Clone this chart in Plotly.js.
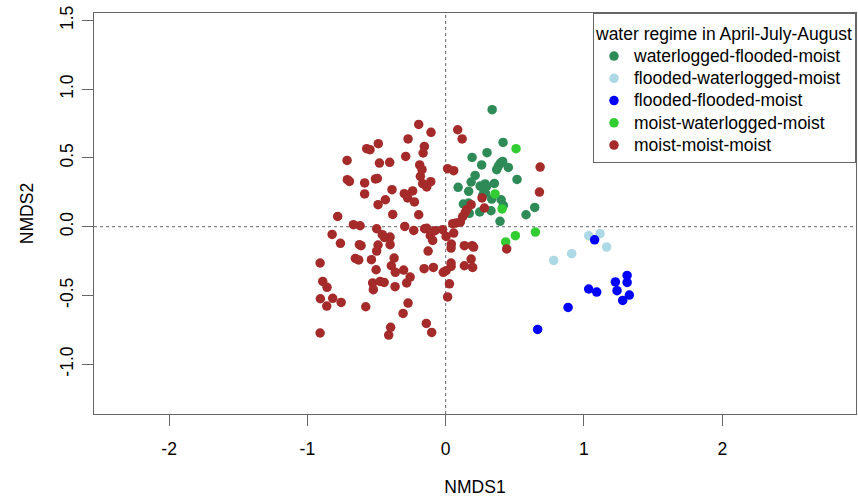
<!DOCTYPE html>
<html>
<head>
<meta charset="utf-8">
<script src="https://cdn.plot.ly/plotly-3.0.1.min.js"></script>
<style>html,body{margin:0;padding:0;background:#fff;}#chart{width:858px;height:499px;}</style>
</head>
<body>
<div id="chart"></div>
<script>
// Group names (legend order)
const groupNames = [
  "waterlogged-flooded-moist",
  "flooded-waterlogged-moist",
  "flooded-flooded-moist",
  "moist-waterlogged-moist",
  "moist-moist-moist"
];
const groupColors = ["#2E8B57", "#ADD8E6", "#0000FF", "#32CD32", "#A52A2A"];
const legendTitle = "water regime in April-July-August";

// waterlogged-flooded-moist
const wfmX = [0.336,0.415,0.191,0.299,0.260,0.396,0.412,0.381,0.369,0.453,0.213,0.184,0.516,0.090,0.249,0.285,0.296,0.268,0.352,0.166,0.287,0.268,0.333,0.401,0.417,0.128,0.166,0.171,0.246,0.328,0.393,0.581,0.644];
const wfmY = [0.851,0.613,0.504,0.538,0.449,0.463,0.475,0.441,0.415,0.431,0.373,0.325,0.344,0.286,0.296,0.311,0.293,0.281,0.315,0.257,0.245,0.228,0.201,0.196,0.155,0.165,0.172,0.097,0.107,0.116,0.039,0.087,0.140];

// flooded-waterlogged-moist
const fwmX = [1.034,1.116,1.164,0.911,0.781];
const fwmY = [-0.065,-0.051,-0.148,-0.196,-0.245];

// flooded-flooded-moist
const ffmX = [1.077,1.312,1.227,1.312,1.239,1.328,1.280,1.034,1.092,0.885,0.665];
const ffmY = [-0.095,-0.354,-0.402,-0.405,-0.465,-0.497,-0.536,-0.453,-0.475,-0.587,-0.747];

// moist-waterlogged-moist
const mwmX = [0.509,0.357,0.408,0.649,0.504,0.434];
const mwmY = [0.567,0.238,0.129,-0.039,-0.065,-0.111];

// moist-moist-moist
const mmmX = [
  -0.195,-0.106,-0.272,-0.487,-0.571,-0.547,-0.154,-0.163,-0.713,-0.479,-0.405,-0.289,-0.188,-0.171,
  -0.711,-0.696,-0.586,-0.508,-0.494,-0.183,-0.166,-0.108,-0.137,-0.388,-0.586,-0.299,-0.239,-0.275,
  -0.436,-0.489,-0.226,
  -0.781,-0.383,-0.195,-0.667,-0.619,-0.821,-0.499,-0.458,-0.443,-0.402,-0.296,-0.231,-0.152,-0.137,
  -0.111,-0.094,-0.077,-0.022,0.003,0.051,0.077,0.106,0.123,0.058,0.041,0.039,0.135,0.191,0.202,
  0.184,0.135,0.195,0.039,0.039,0.003,-0.017,0.027,0.014,-0.089,-0.156,-0.127,-0.402,-0.489,-0.499,
  -0.624,-0.612,-0.761,-0.908,-0.653,-0.629,-0.537,-0.373,-0.393,-0.503,-0.364,-0.304,-0.257,-0.282,
  -0.889,-0.858,-0.528,-0.523,-0.474,-0.445,-0.366,-0.906,-0.817,-0.860,-0.756,-0.578,-0.272,-0.308,
  -0.398,-0.412,-0.140,-0.101,-0.908,
  0.087,0.119,0.014,0.058,0.683,0.678,0.184,0.263,0.280,0.152,0.142,0.441
];
const mmmY = [
  0.744,0.686,0.638,0.604,0.567,0.560,0.584,0.536,0.482,0.463,0.468,0.511,0.449,0.415,
  0.342,0.329,0.318,0.347,0.351,0.366,0.313,0.327,0.289,0.269,0.238,0.240,0.260,0.209,
  0.196,0.160,0.180,
  0.075,0.089,0.087,0.015,0.007,-0.056,-0.015,-0.058,-0.078,-0.075,0.002,-0.027,-0.015,-0.012,
  -0.065,-0.100,-0.029,-0.022,-0.071,0.022,0.027,0.034,0.073,-0.046,-0.126,-0.155,-0.138,-0.138,-0.148,
  -0.235,-0.284,-0.296,-0.264,-0.289,-0.320,-0.332,-0.415,-0.511,-0.296,-0.305,-0.177,-0.131,-0.133,-0.177,
  -0.131,-0.138,-0.121,-0.264,-0.231,-0.242,-0.240,-0.228,-0.284,-0.313,-0.332,-0.315,-0.366,-0.409,
  -0.398,-0.441,-0.409,-0.458,-0.398,-0.405,-0.436,-0.524,-0.521,-0.577,-0.551,-0.582,-0.555,-0.631,
  -0.732,-0.788,-0.703,-0.769,-0.773,
  0.705,0.638,0.422,0.407,0.434,0.252,0.160,0.209,0.136,0.124,0.104,-0.162
];

const xTicks = [-2, -1, 0, 1, 2];
const xTickText = ["-2", "-1", "0", "1", "2"];
const yTicks = [-1.0, -0.5, 0.0, 0.5, 1.0, 1.5];
const yTickText = ["-1.0", "-0.5", "0.0", "0.5", "1.0", "1.5"];

const FONT = "Liberation Sans, Arial, sans-serif";
const xs = [wfmX, fwmX, ffmX, mwmX, mmmX];
const ys = [wfmY, fwmY, ffmY, mwmY, mmmY];

const traces = groupNames.map((name, i) => ({
  type: "scatter",
  mode: "markers",
  name: '<span style="font-size:17.5px">' + name + '</span>',
  x: xs[i],
  y: ys[i],
  marker: {color: groupColors[i], size: 9.5, line: {width: 0}},
  hoverinfo: "x+y"
}));

const layout = {
  width: 858,
  height: 499,
  margin: {l: 94, r: 2, t: 13, b: 85},
  paper_bgcolor: "#ffffff",
  plot_bgcolor: "#ffffff",
  font: {family: FONT, size: 17.5, color: "#000"},
  showlegend: true,
  xaxis: {
    range: [-2.543, 2.967],
    tickvals: xTicks,
    ticktext: xTickText,
    ticks: "outside",
    ticklen: 11,
    tickcolor: "#666",
    tickwidth: 1,
    showline: true,
    mirror: true,
    linecolor: "#666",
    linewidth: 1,
    showgrid: false,
    zeroline: false,
    ticklabelstandoff: 8,
    title: {text: "NMDS1", font: {family: FONT, size: 17.5, color: "#000"}, standoff: 22}
  },
  yaxis: {
    range: [-1.362, 1.554],
    tickvals: yTicks,
    ticktext: yTickText,
    tickangle: -90,
    ticks: "outside",
    ticklen: 11,
    tickcolor: "#666",
    tickwidth: 1,
    showline: true,
    mirror: true,
    linecolor: "#666",
    linewidth: 1,
    showgrid: false,
    zeroline: false,
    ticklabelstandoff: 2,
    title: {text: "NMDS2", font: {family: FONT, size: 17.5, color: "#000"}, standoff: 18}
  },
  legend: {
    x: 1, xanchor: "right",
    y: 1, yanchor: "top",
    bgcolor: "#ffffff",
    bordercolor: "#666",
    borderwidth: 1,
    font: {family: FONT, size: 14.8, color: "#000"},
    title: {text: '<span style="font-size:17.5px">' + legendTitle + '</span>', font: {family: FONT, size: 20, color: "#000"}},
    itemwidth: 30,
    tracegroupgap: 0
  },
  shapes: [
    {type: "line", xref: "x", yref: "paper", x0: 0, x1: 0, y0: 0, y1: 1,
     line: {color: "#666", width: 1, dash: "3px,3px"}, layer: "below"},
    {type: "line", xref: "paper", yref: "y", x0: 0, x1: 1, y0: 0, y1: 0,
     line: {color: "#666", width: 1, dash: "3px,3px"}, layer: "below"}
  ]
};

Plotly.newPlot("chart", traces, layout, {displayModeBar: false, staticPlot: true});
</script>
</body>
</html>
